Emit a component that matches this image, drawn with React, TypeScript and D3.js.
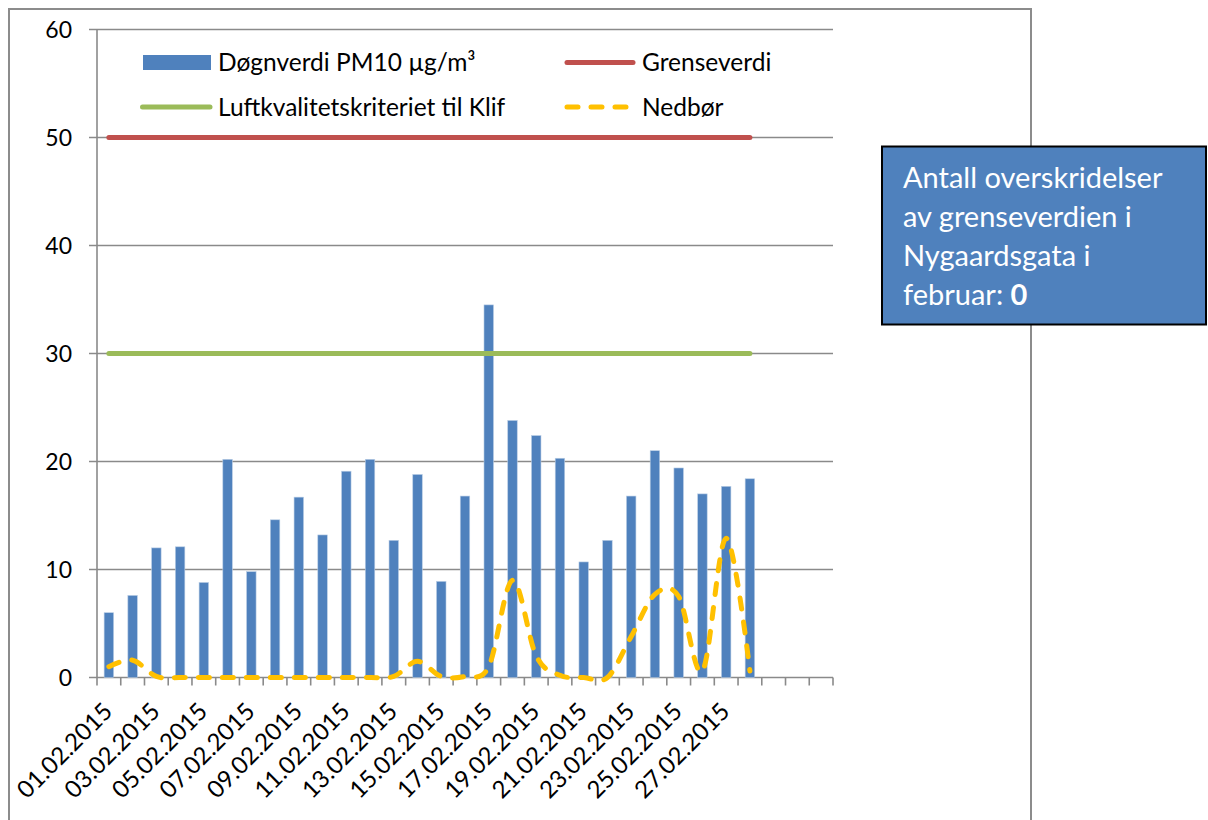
import React from "react";
import * as d3 from "d3";

const dates = [
  "01.02.2015", "02.02.2015", "03.02.2015", "04.02.2015", "05.02.2015", "06.02.2015", "07.02.2015",
  "08.02.2015", "09.02.2015", "10.02.2015", "11.02.2015", "12.02.2015", "13.02.2015", "14.02.2015",
  "15.02.2015", "16.02.2015", "17.02.2015", "18.02.2015", "19.02.2015", "20.02.2015", "21.02.2015",
  "22.02.2015", "23.02.2015", "24.02.2015", "25.02.2015", "26.02.2015", "27.02.2015", "28.02.2015",
  "", "", "",
];
const pm10 = [6.0, 7.6, 12.0, 12.1, 8.8, 20.2, 9.8, 14.6, 16.7, 13.2, 19.1, 20.2, 12.7, 18.8, 8.9, 16.8, 34.5, 23.8, 22.4, 20.3, 10.7, 12.7, 16.8, 21.0, 19.4, 17.0, 17.7, 18.4];
const nedbor = [1.0, 1.6, 0.1, 0, 0, 0, 0, 0, 0, 0, 0, 0, 0.1, 1.5, 0.1, 0.1, 1.0, 9.0, 2.0, 0.2, 0, 0, 3.8, 7.7, 7.5, 0.6, 12.9, 0.6];
const grenseverdi = 50;
const klifKriterium = 30;
const yTicks = [0, 10, 20, 30, 40, 50, 60];
const legendLabels = ["Døgnverdi PM10 µg/m³", "Grenseverdi", "Luftkvalitetskriteriet til Klif", "Nedbør"];
const boxLines = ["Antall overskridelser", "av grenseverdien i", "Nygaardsgata i", "februar: "];
const boxCount = "0";

const FONT = "Lato, 'Open Sans', sans-serif";
const BLUE = "#4F81BD";
const RED = "#C0504D";
const GREEN = "#9BBB59";
const YELLOW = "#FFC000";
const GRID = "#8A8A8A";

export default function App() {
  const left = 97, right = 833, top = 29.5, bottom = 677.5;
  const x = d3.scaleBand<number>().domain(d3.range(dates.length)).range([left, right]).padding(0);
  const y = d3.scaleLinear().domain([0, 60]).range([bottom, top]);
  const bw = x.bandwidth();
  const cx = (i: number) => (x(i) as number) + bw / 2;
  const barW = bw * 0.4;
  const nLine = pm10.length;

  const lineGen = d3.line<number>().x((_, i) => cx(i)).y((d) => y(d)).curve(d3.curveCatmullRom.alpha(0));
  const flat = (v: number) => d3.range(nLine).map(() => v);
  const straight = d3.line<number>().x((_, i) => cx(i)).y((d) => y(d));

  const fsY = 23;
  const fsX = 24;
  const fsL = 24.5;
  const fsB = 29;

  return (
    <svg width={1208} height={820} style={{ position: "absolute", left: 0, top: 0 }} fontFamily={FONT}>
      <rect x={0} y={0} width={1208} height={820} fill="#fff" />
      {/* outer chart border */}
      <rect x={9} y={9} width={1022} height={830} fill="none" stroke="#8c8c8c" strokeWidth={2} />

      {/* gridlines */}
      {yTicks.map((t) => (
        <g key={t}>
          <line x1={left - 8} x2={right} y1={y(t)} y2={y(t)} stroke={GRID} strokeWidth={1.6} />
          <text x={72} y={y(t)} dy="0.36em" textAnchor="end" fontSize={fsY} fill="#000">{t}</text>
        </g>
      ))}
      {/* y axis */}
      <line x1={left} x2={left} y1={top} y2={bottom} stroke={GRID} strokeWidth={1.6} />
      {/* x ticks */}
      {d3.range(dates.length + 1).map((i) => {
        const xx = i < dates.length ? (x(i) as number) : right;
        return <line key={i} x1={xx} x2={xx} y1={bottom} y2={bottom + 8} stroke={GRID} strokeWidth={1.6} />;
      })}

      {/* bars */}
      {pm10.map((v, i) => (
        <rect key={i} x={cx(i) - barW / 2} y={y(v)} width={barW} height={y(0) - y(v)} fill={BLUE} stroke="#B9CDE5" strokeWidth={0.6} />
      ))}

      {/* limit lines */}
      <path d={straight(flat(klifKriterium)) || ""} stroke={GREEN} strokeWidth={5} fill="none" strokeLinecap="round" />
      <path d={straight(flat(grenseverdi)) || ""} stroke={RED} strokeWidth={5} fill="none" strokeLinecap="round" />
      {/* precipitation */}
      <path d={lineGen(nedbor) || ""} stroke={YELLOW} strokeWidth={5} fill="none" strokeLinecap="round" strokeDasharray="11 13" />

      {/* x labels */}
      {dates.map((d, i) =>
        i % 2 === 0 && d ? (
          <g key={i} transform={`translate(${cx(i) + 5},${713}) rotate(-45)`}>
            <text x={0} y={0} textAnchor="end" fontSize={fsX} fill="#000">{d}</text>
          </g>
        ) : null
      )}

      {/* legend */}
      <rect x={143} y={55} width={68} height={15} fill={BLUE} />
      <text x={218} y={62.5} dy="0.35em" fontSize={fsL}>{legendLabels[0]}</text>
      <line x1={567} x2={633} y1={62.5} y2={62.5} stroke={RED} strokeWidth={5} strokeLinecap="round" />
      <text x={642} y={62.5} dy="0.35em" fontSize={fsL}>{legendLabels[1]}</text>
      <line x1={142.5} x2={210} y1={107} y2={107} stroke={GREEN} strokeWidth={5} strokeLinecap="round" />
      <text x={218} y={107} dy="0.35em" fontSize={fsL}>{legendLabels[2]}</text>
      <line x1={567} x2={633} y1={107} y2={107} stroke={YELLOW} strokeWidth={5} strokeLinecap="round" strokeDasharray="11 13" />
      <text x={642} y={107} dy="0.35em" fontSize={fsL}>{legendLabels[3]}</text>

      {/* info box */}
      <rect x={882} y={146.5} width={324} height={178} fill={BLUE} stroke="#000" strokeWidth={2} />
      {boxLines.map((l, i) => (
        <text key={i} x={903} y={188 + i * 39} fontSize={fsB} fill="#fff">
          {l}
          {i === boxLines.length - 1 ? <tspan fontWeight="bold">{boxCount}</tspan> : null}
        </text>
      ))}
    </svg>
  );
}
